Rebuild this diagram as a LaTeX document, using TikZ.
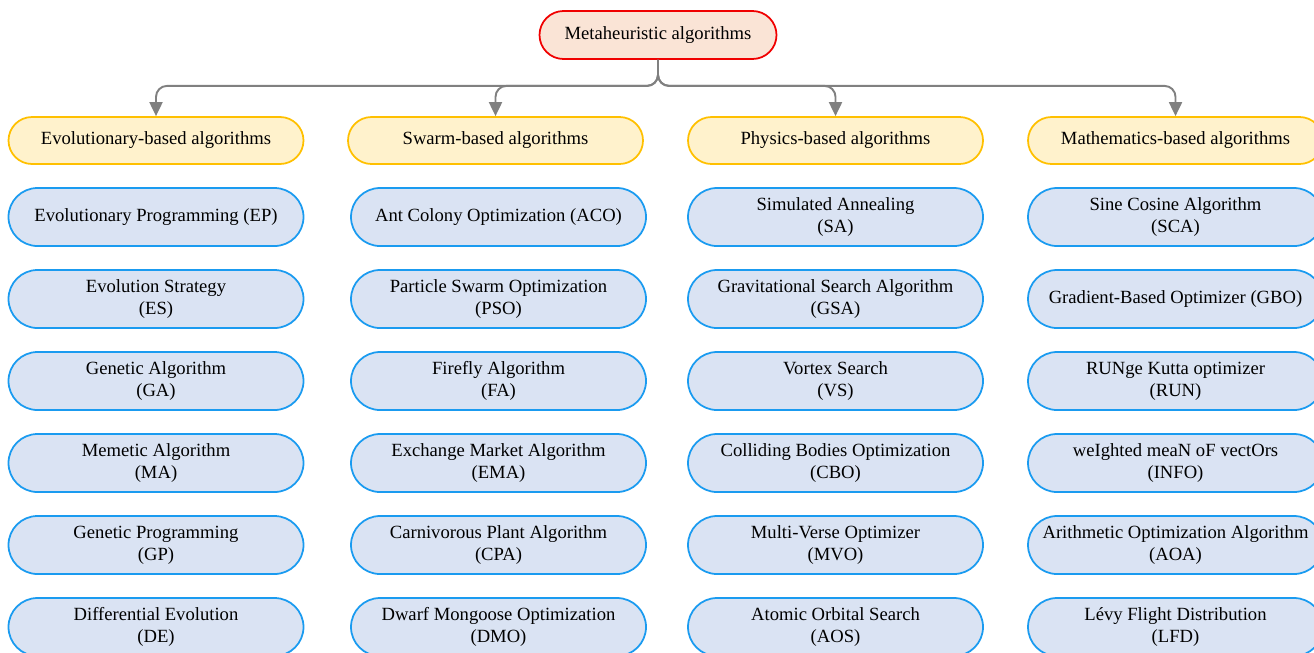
\documentclass[tikz,border=0pt]{standalone}
\usepackage{fontspec}
\setmainfont{Liberation Serif}
\usetikzlibrary{math, arrows.meta}

\definecolor{rootfill}{HTML}{FAE4D6}
\definecolor{rootline}{HTML}{F00000}
\definecolor{catfill}{HTML}{FFF2CC}
\definecolor{catline}{HTML}{FFC000}
\definecolor{algfill}{HTML}{DAE3F3}
\definecolor{algline}{HTML}{1A9BF0}
\definecolor{linkgray}{HTML}{808080}

\begin{document}
\begin{tikzpicture}[
    font = \fontsize{10.6}{12.6}\selectfont,
    root/.style = {draw = rootline, fill = rootfill, line width = 1pt,
        rounded corners = 0.48cm, minimum width = 4.74cm, minimum height = 0.96cm},
    cat/.style = {draw = catline, fill = catfill, line width = 1pt,
        rounded corners = 0.47cm, minimum width = 5.9cm, minimum height = 0.94cm},
    alg/.style = {draw = algline, fill = algfill, line width = 1pt, align = center,
        rounded corners = 0.58cm, minimum width = 5.9cm, minimum height = 1.16cm,
        inner sep = 1pt},
    link/.style = {draw = linkgray, line width = 1.1pt, rounded corners = 0.22cm,
        -{Triangle[length = 0.28cm, width = 0.26cm]}},
]
    \tikzmath{
        \xa = 3.12;
        \xb = 9.91;
        \xc = 16.71;
        \xd = 23.51;
        \ycat = -2.81;
        \yini = -4.34;
        \ystep = 1.64;
    }

% marco
\useasboundingbox (0, 0) rectangle (26.28, -13.04);

% raiz
\node[root] (root) at (13.16, -0.70) {Metaheuristic algorithms};

% categorias
\node[cat] (evo)   at (\xa, \ycat) {Evolutionary-based algorithms};
\node[cat] (swarm) at (\xb, \ycat) {Swarm-based algorithms};
\node[cat] (phys)  at (\xc, \ycat) {Physics-based algorithms};
\node[cat] (math)  at (\xd, \ycat) {Mathematics-based algorithms};

% conectores
\foreach \c in {evo, swarm, phys, math} {
    \draw[link] (root.south) -- ++(0, -0.52) -| (\c.north);
}

% algoritmos evolutivos
\foreach \i/\t in {1/{Evolutionary Programming (EP)}, 2/{Evolution Strategy\\(ES)},
        3/{Genetic Algorithm\\(GA)}, 4/{Memetic Algorithm\\(MA)},
        5/{Genetic Programming\\(GP)}, 6/{Differential Evolution\\(DE)}} {
    \node[alg] (evo\i) at (\xa, {\yini - \ystep*(\i-1)}) {\t};
}

% algoritmos de enjambre
\foreach \i/\t in {1/{Ant Colony Optimization (ACO)}, 2/{Particle Swarm Optimization\\(PSO)},
        3/{Firefly Algorithm\\(FA)}, 4/{Exchange Market Algorithm\\(EMA)},
        5/{Carnivorous Plant Algorithm\\(CPA)}, 6/{Dwarf Mongoose Optimization\\(DMO)}} {
    \node[alg] (swarm\i) at (\xb + 0.06, {\yini - \ystep*(\i-1)}) {\t};
}

% algoritmos fisicos
\foreach \i/\t in {1/{Simulated Annealing\\(SA)}, 2/{Gravitational Search Algorithm\\(GSA)},
        3/{Vortex Search\\(VS)}, 4/{Colliding Bodies Optimization\\(CBO)},
        5/{Multi-Verse Optimizer\\(MVO)}, 6/{Atomic Orbital Search\\(AOS)}} {
    \node[alg] (phys\i) at (\xc, {\yini - \ystep*(\i-1)}) {\t};
}

% algoritmos matematicos
\foreach \i/\t in {1/{Sine Cosine Algorithm\\(SCA)}, 2/{Gradient-Based Optimizer (GBO)},
        3/{RUNge Kutta optimizer\\(RUN)}, 4/{weIghted meaN oF vectOrs\\(INFO)},
        5/{Arithmetic Optimization Algorithm\\(AOA)}, 6/{Lévy Flight Distribution\\(LFD)}} {
    \node[alg] (math\i) at (\xd, {\yini - \ystep*(\i-1)}) {\t};
}

\end{tikzpicture}
\end{document}
